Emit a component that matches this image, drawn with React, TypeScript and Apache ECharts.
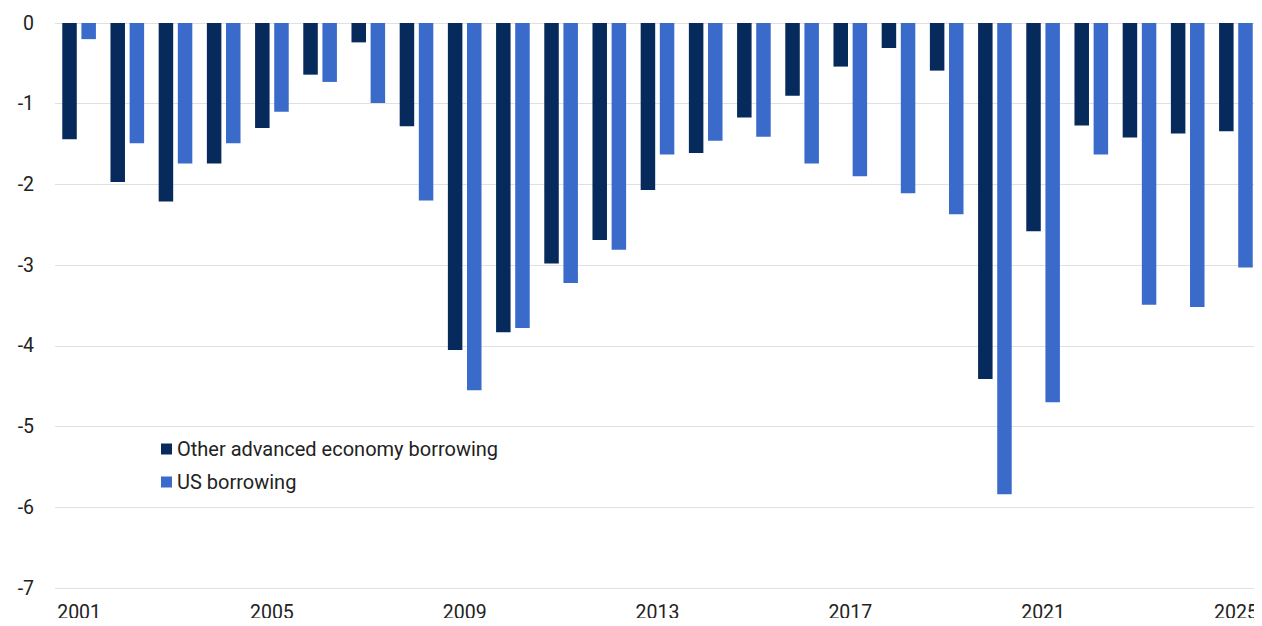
import React, { useEffect, useRef } from "react";
import * as echarts from "echarts";

const years = [
  "2001", "2002", "2003", "2004", "2005", "2006", "2007", "2008", "2009", "2010",
  "2011", "2012", "2013", "2014", "2015", "2016", "2017", "2018", "2019", "2020",
  "2021", "2022", "2023", "2024", "2025",
];

const otherAdvanced = [
  -1.44, -1.97, -2.21, -1.74, -1.3, -0.64, -0.24, -1.28, -4.05, -3.83,
  -2.98, -2.69, -2.07, -1.61, -1.17, -0.9, -0.54, -0.31, -0.59, -4.41,
  -2.58, -1.27, -1.42, -1.37, -1.34,
];

const usBorrowing = [
  -0.2, -1.49, -1.74, -1.49, -1.1, -0.73, -0.99, -2.2, -4.55, -3.78,
  -3.22, -2.81, -1.63, -1.46, -1.41, -1.74, -1.9, -2.11, -2.37, -5.84,
  -4.7, -1.63, -3.49, -3.52, -3.03,
];

const seriesNames = ["Other advanced economy borrowing", "US borrowing"];
const colors = ["#052a5b", "#3a6bca"];

export default function App() {
  const ref = useRef<HTMLDivElement>(null);

  useEffect(() => {
    if (!ref.current) return;
    const chart = echarts.init(ref.current, undefined, { renderer: "svg" });
    const font = "Roboto, 'Noto Sans', sans-serif";
    chart.setOption({
      animation: false,
      textStyle: { fontFamily: font },
      grid: { left: 55, right: 2, top: 23, bottom: 38, containLabel: false },
      legend: {
        orient: "vertical",
        left: 156,
        top: 434,
        itemWidth: 11,
        itemHeight: 11,
        itemGap: 13,
        icon: "rect",
        textStyle: { fontSize: 20, color: "#222", fontFamily: font },
        data: seriesNames,
      },
      xAxis: {
        type: "category",
        data: years,
        position: "bottom",
        axisLine: { show: false, onZero: false },
        axisTick: { show: false },
        axisLabel: {
          interval: 3,
          fontSize: 19.5,
          color: "#222",
          margin: 14,
          fontFamily: font,
        },
      },
      yAxis: {
        type: "value",
        min: -7,
        max: 0,
        interval: 1,
        axisLine: { show: false },
        axisTick: { show: false },
        axisLabel: { fontSize: 19.5, color: "#222", margin: 21, fontFamily: font },
        splitLine: { lineStyle: { color: "#e0e0e0", width: 1 } },
      },
      series: [
        {
          name: seriesNames[0],
          type: "bar",
          data: otherAdvanced,
          barWidth: 14.5,
          barGap: "32%",
          itemStyle: { color: colors[0] },
        },
        {
          name: seriesNames[1],
          type: "bar",
          data: usBorrowing,
          barWidth: 14.5,
          barGap: "32%",
          itemStyle: { color: colors[1] },
        },
      ],
    });
    return () => chart.dispose();
  }, []);

  return <div ref={ref} style={{ width: 1262, height: 626, margin: -8 }} />;
}
